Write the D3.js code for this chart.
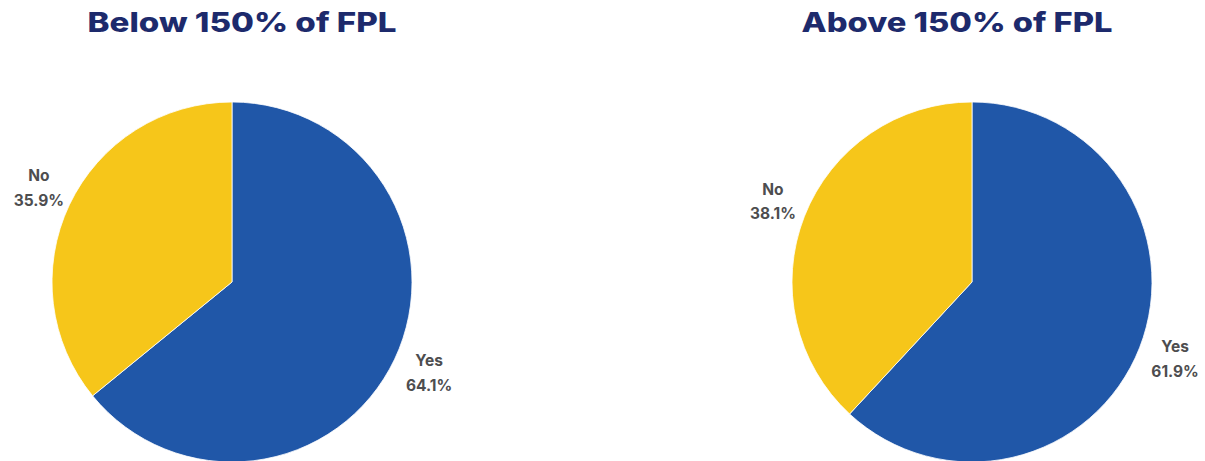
<!DOCTYPE html>
<html>
<head>
<meta charset="utf-8">
<script src="https://cdn.jsdelivr.net/npm/d3@7"></script>
<style>
  html, body { margin: 0; padding: 0; background: #ffffff; }
  svg { display: block; }
</style>
</head>
<body>
<svg id="chart" width="1205" height="461"></svg>
<script>
// Share of respondents answering Yes / No, by income group
const groups = ["Below 150% of FPL", "Above 150% of FPL"];
const categories = ["Yes", "No"];
const belowValues = [64.1, 35.9];
const aboveValues = [61.9, 38.1];
const seriesValues = [belowValues, aboveValues];

const colors = d3.scaleOrdinal().domain(categories).range(["#2057a8", "#f6c61a"]);

const svg = d3.select("#chart");

const radius = 180;
const labelRadius = 216;
const centersX = [232, 972];
const centerY = 282;
const titleX = [242, 957];
const titleWidth = [309, 311];

const pie = d3.pie().sort(null).value(d => d.value);
const arc = d3.arc().innerRadius(0).outerRadius(radius);
const labelArc = d3.arc().innerRadius(labelRadius).outerRadius(labelRadius);

groups.forEach((g, i) => {
  // title
  svg.append("text")
    .attr("x", titleX[i])
    .attr("y", 32)
    .attr("text-anchor", "middle")
    .attr("font-family", "Inter, 'DejaVu Sans', sans-serif")
    .attr("font-weight", 800)
    .attr("font-size", 27)
    .attr("fill", "#1d2a6c")
    .attr("textLength", titleWidth[i])
    .attr("lengthAdjust", "spacingAndGlyphs")
    .text(g);

  const data = categories.map((c, k) => ({ category: c, value: seriesValues[i][k] }));
  const arcs = pie(data);

  const pieG = svg.append("g")
    .attr("transform", `translate(${centersX[i]},${centerY})`);

  pieG.selectAll("path")
    .data(arcs)
    .join("path")
    .attr("d", arc)
    .attr("fill", d => colors(d.data.category))
    .attr("stroke", "#ffffff")
    .attr("stroke-width", 0.8);

  const labels = pieG.selectAll("text.slice-label")
    .data(arcs)
    .join("text")
    .attr("class", "slice-label")
    .attr("transform", d => {
      const [x, y] = labelArc.centroid(d);
      return `translate(${x + 2},${y})`;
    })
    .attr("text-anchor", "middle")
    .attr("font-family", "Inter, 'DejaVu Sans', sans-serif")
    .attr("font-weight", 700)
    .attr("font-size", 15.5)
    .attr("fill", "#4d4d4f");

  labels.append("tspan")
    .attr("x", 0)
    .attr("dy", "-0.55em")
    .text(d => d.data.category);
  labels.append("tspan")
    .attr("x", 0)
    .attr("dy", "1.6em")
    .text(d => d3.format(".1f")(d.data.value) + "%");
});
</script>
</body>
</html>
